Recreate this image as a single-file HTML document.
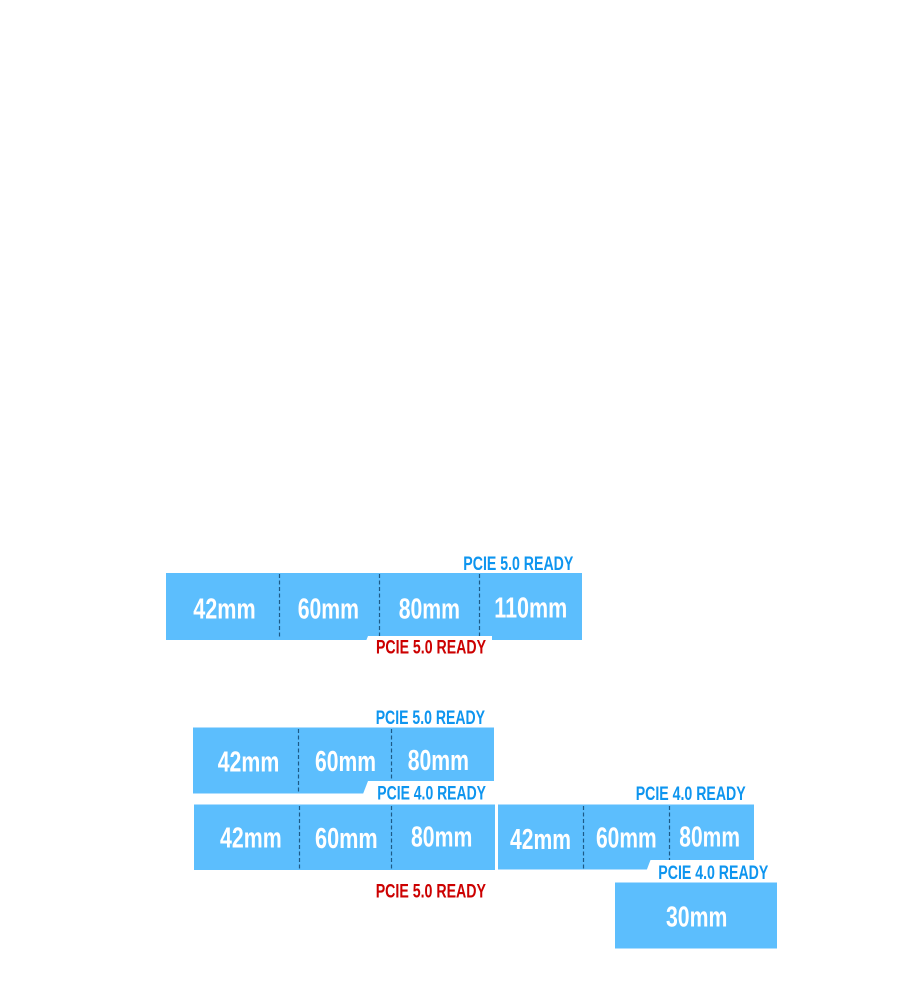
<!DOCTYPE html>
<html>
<head>
<meta charset="utf-8">
<style>
  html,body{margin:0;padding:0;background:#fff;}
  svg{display:block;}
  .big{font-family:"Liberation Sans",sans-serif;font-weight:bold;font-size:29px;fill:#fff;}
  .lb{font-family:"Liberation Sans",sans-serif;font-weight:bold;font-size:19px;fill:#0e95ef;}
  .lr{font-family:"Liberation Sans",sans-serif;font-weight:bold;font-size:19px;fill:#cc0000;}
  .d{stroke:#1d5a87;stroke-width:1.2;stroke-dasharray:4 2.5;}
</style>
</head>
<body>
<svg width="900" height="1000" viewBox="0 0 900 1000" xmlns="http://www.w3.org/2000/svg">
  <rect x="0" y="0" width="900" height="1000" fill="#fff"/>

  <!-- Row 1 -->
  <rect x="166" y="573" width="416" height="67" fill="#5cbefd"/>
  <line class="d" x1="279.5" y1="574" x2="279.5" y2="639"/>
  <line class="d" x1="379.5" y1="574" x2="379.5" y2="637"/>
  <line class="d" x1="479.5" y1="574" x2="479.5" y2="637"/>
  <polygon points="368,636 492,636 492,641 366,641" fill="#fff"/>
  <text class="big" x="193.3" y="618.3" textLength="62.4" lengthAdjust="spacingAndGlyphs">42mm</text>
  <text class="big" x="297.7" y="618.3" textLength="61.3" lengthAdjust="spacingAndGlyphs">60mm</text>
  <text class="big" x="398.7" y="618.3" textLength="61.3" lengthAdjust="spacingAndGlyphs">80mm</text>
  <text class="big" x="494.3" y="617.5" textLength="73" lengthAdjust="spacingAndGlyphs">110mm</text>
  <text class="lb" x="463.3" y="570" textLength="110" lengthAdjust="spacingAndGlyphs">PCIE 5.0 READY</text>
  <text class="lr" x="376" y="653.5" textLength="110" lengthAdjust="spacingAndGlyphs">PCIE 5.0 READY</text>

  <!-- Row 2 top -->
  <rect x="193" y="727.5" width="301" height="66" fill="#5cbefd"/>
  <line class="d" x1="298.5" y1="729" x2="298.5" y2="792"/>
  <line class="d" x1="391.5" y1="729" x2="391.5" y2="792"/>
  <polygon points="368,781 495,781 495,794 363,794" fill="#fff"/>
  <text class="big" x="217.7" y="771.7" textLength="61.6" lengthAdjust="spacingAndGlyphs">42mm</text>
  <text class="big" x="315" y="771" textLength="61" lengthAdjust="spacingAndGlyphs">60mm</text>
  <text class="big" x="407.7" y="770" textLength="61.3" lengthAdjust="spacingAndGlyphs">80mm</text>
  <text class="lb" x="375.7" y="724" textLength="109.3" lengthAdjust="spacingAndGlyphs">PCIE 5.0 READY</text>
  <text class="lb" x="377.3" y="799.5" textLength="108.7" lengthAdjust="spacingAndGlyphs">PCIE 4.0 READY</text>

  <!-- Row 2 bottom -->
  <rect x="194" y="804.5" width="301" height="65.5" fill="#5cbefd"/>
  <line class="d" x1="299.5" y1="806" x2="299.5" y2="869"/>
  <line class="d" x1="391.5" y1="806" x2="391.5" y2="869"/>
  <text class="big" x="220" y="847.7" textLength="61.7" lengthAdjust="spacingAndGlyphs">42mm</text>
  <text class="big" x="315" y="848" textLength="62.7" lengthAdjust="spacingAndGlyphs">60mm</text>
  <text class="big" x="411" y="846.5" textLength="61.3" lengthAdjust="spacingAndGlyphs">80mm</text>
  <text class="lr" x="375.7" y="897.5" textLength="110.3" lengthAdjust="spacingAndGlyphs">PCIE 5.0 READY</text>

  <!-- Right group -->
  <rect x="498" y="804.5" width="256" height="65" fill="#5cbefd"/>
  <line class="d" x1="583.5" y1="806" x2="583.5" y2="869"/>
  <line class="d" x1="669.5" y1="806" x2="669.5" y2="860"/>
  <polygon points="650.5,860 755,860 755,870 646.7,870" fill="#fff"/>
  <text class="big" x="510" y="849" textLength="61" lengthAdjust="spacingAndGlyphs">42mm</text>
  <text class="big" x="596" y="847.5" textLength="60.7" lengthAdjust="spacingAndGlyphs">60mm</text>
  <text class="big" x="679.3" y="846.7" textLength="60.7" lengthAdjust="spacingAndGlyphs">80mm</text>
  <text class="lb" x="635.7" y="800" textLength="110" lengthAdjust="spacingAndGlyphs">PCIE 4.0 READY</text>
  <text class="lb" x="658.3" y="879" textLength="110" lengthAdjust="spacingAndGlyphs">PCIE 4.0 READY</text>

  <rect x="615" y="882.5" width="162" height="66" fill="#5cbefd"/>
  <text class="big" x="666" y="926.7" textLength="61.3" lengthAdjust="spacingAndGlyphs">30mm</text>
</svg>
</body>
</html>
